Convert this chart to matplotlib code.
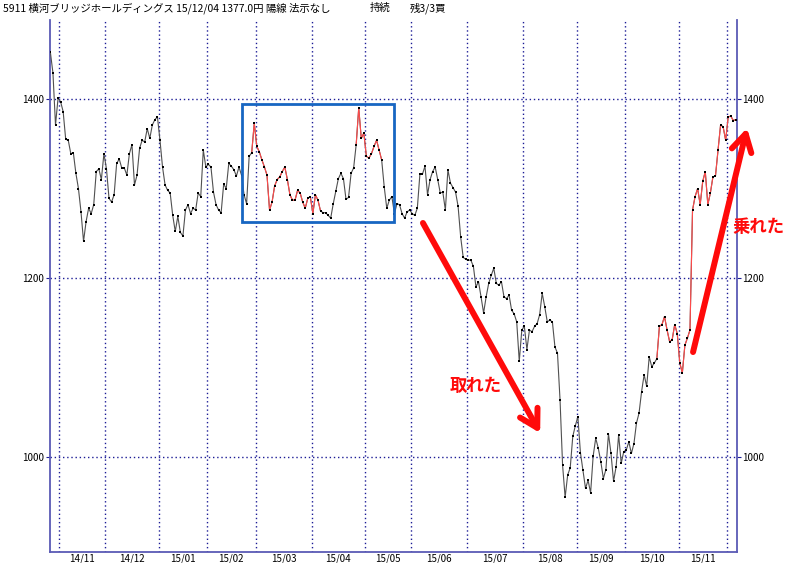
import numpy as np
import matplotlib
matplotlib.use('Agg')
import matplotlib.pyplot as plt
import matplotlib.patches as patches

plt.rcParams['font.family'] = ['Noto Sans CJK JP', 'DejaVu Sans']

# trading days per month, 14/10 (partial) .. 15/12 (partial)
month_days = [4, 18, 21, 19, 19, 22, 21, 18, 22, 22, 21, 19, 21, 19, 4]
month_labels = ['', '14/11', '14/12', '15/01', '15/02', '15/03', '15/04', '15/05',
                '15/06', '15/07', '15/08', '15/09', '15/10', '15/11', '']

# daily close
close = [
    1452, 1429, 1371, 1401, 1397, 1386, 1355, 1354, 1339, 1340,
    1317, 1300, 1274, 1241, 1263, 1278, 1272, 1282, 1319, 1322,
    1310, 1339, 1322, 1289, 1285, 1293, 1328, 1333, 1323, 1323,
    1315, 1339, 1349, 1304, 1315, 1345, 1354, 1352, 1367, 1356,
    1371, 1377, 1380, 1354, 1324, 1304, 1298, 1295, 1270, 1252,
    1269, 1251, 1247, 1276, 1282, 1272, 1278, 1276, 1295, 1291,
    1343, 1324, 1327, 1324, 1296, 1282, 1276, 1273, 1305, 1300,
    1328, 1325, 1321, 1314, 1324, 1315, 1293, 1283, 1336, 1340,
    1373, 1347, 1341, 1332, 1324, 1315, 1276, 1285, 1303, 1310,
    1313, 1319, 1324, 1310, 1293, 1287, 1287, 1298, 1295, 1285,
    1278, 1289, 1291, 1272, 1293, 1287, 1275, 1273, 1273, 1270,
    1267, 1283, 1297, 1311, 1317, 1311, 1288, 1290, 1317, 1323,
    1349, 1390, 1356, 1362, 1336, 1334, 1339, 1347, 1354, 1343,
    1332, 1302, 1278, 1287, 1291, 1272, 1283, 1282, 1272, 1267,
    1274, 1276, 1272, 1270, 1278, 1316, 1316, 1325, 1293, 1310,
    1319, 1324, 1310, 1295, 1296, 1276, 1321, 1306, 1301, 1296,
    1280, 1246, 1223, 1221, 1220, 1220, 1213, 1190, 1196, 1179,
    1161, 1179, 1194, 1203, 1211, 1194, 1192, 1196, 1179, 1177,
    1181, 1164, 1160, 1151, 1107, 1142, 1146, 1120, 1142, 1140,
    1146, 1149, 1159, 1183, 1168, 1151, 1153, 1151, 1123, 1116,
    1064, 991, 955, 980, 988, 1023, 1035, 1045, 1005, 985,
    965, 974, 960, 1001, 1021, 1010, 995, 976, 986, 1026,
    1004, 973, 989, 1025, 993, 1006, 1008, 1017, 1004, 1015,
    1038, 1049, 1073, 1092, 1079, 1112, 1101, 1105, 1110, 1146,
    1148, 1157, 1142, 1129, 1131, 1148, 1138, 1105, 1094, 1125,
    1133, 1142, 1276, 1291, 1300, 1282, 1308, 1319, 1282, 1295,
    1313, 1314, 1343, 1371, 1369, 1354, 1380, 1381, 1376, 1377,
]

# stretches drawn in red (index ranges, inclusive)
red_spans = [(79, 106), (120, 130), (238, 269)]
price_levels = [1000, 1200, 1400]

grid_color = '#1c1c96'
frame_color = '#5b5bb5'

x = np.arange(len(close))
close = np.array(close)

fig = plt.figure(figsize=(7.95, 5.63), dpi=100)
ax = fig.add_axes([50 / 795, 11 / 563, 687 / 795, 532 / 563])

ax.plot(x, close, color='#505050', lw=0.8, zorder=3)
for a, b in red_spans:
    ax.plot(x[a:b + 1], close[a:b + 1], color='#ff4a4a', lw=0.8, zorder=4)
ax.plot(x, close, linestyle='none', marker='s', ms=1.5, mew=0, color='black', zorder=5)

ends = np.cumsum(month_days)
for b in ends[:-1] - 0.5:
    ax.axvline(b, color=grid_color, lw=1, ls=(0, (1, 2)), zorder=1)
for level in price_levels:
    ax.axhline(level, color=grid_color, lw=1, ls=(0, (1, 2)), zorder=1)

centers = ends - np.array(month_days) / 2 - 0.5
ax.set_xticks(centers[1:-1])
ax.set_xticklabels(month_labels[1:-1])
ax.set_yticks(price_levels)
ax.set_xlim(-0.16, 269.45)
ax.set_ylim(893.9, 1488.3)

ax.spines['top'].set_visible(False)
for side in ['left', 'right', 'bottom']:
    ax.spines[side].set_color(frame_color)
    ax.spines[side].set_linewidth(1.3)

ax.tick_params(axis='y', left=True, right=True, labelleft=True, labelright=True,
               length=3, color=grid_color, labelsize=7, pad=1)
ax.tick_params(axis='x', length=0, labelsize=7, pad=1)

# box around the sideways period
ax.add_patch(patches.Rectangle((75.2, 1262.2), 59.5, 131.9, fill=False,
                               ec='#1766c2', lw=2, zorder=6))

# red arrows and notes
arrow = dict(arrowstyle='->,head_length=1.25,head_width=0.72', lw=4.3,
             color='#ff0a0a', shrinkA=0, shrinkB=0)
ax.annotate('', xy=(192.2, 1026.8), xytext=(146.2, 1261.5),
            arrowprops=arrow, annotation_clip=False, zorder=7)
ax.annotate('', xy=(273.4, 1367.6), xytext=(252.2, 1117.3),
            arrowprops=arrow, annotation_clip=False, zorder=7)
ax.text(167, 1079, '取れた', color='#ff0a0a', fontsize=12.5, fontweight='bold',
        ha='center', va='center', zorder=7)
ax.text(277.7, 1257, '乗れた', color='#ff0a0a', fontsize=12.5, fontweight='bold',
        ha='center', va='center', clip_on=False, zorder=7)

# header line
fig.text(3 / 795, 1 - 8 / 563, '5911 横河ブリッジホールディングス 15/12/04 1377.0円 陽線 法示なし',
         fontsize=7.5, va='center', ha='left')
fig.text(370 / 795, 1 - 8 / 563, '持続', fontsize=7.5, va='center', ha='left')
fig.text(410 / 795, 1 - 8 / 563, '残3/3買', fontsize=7.5, va='center', ha='left')

fig.savefig('out.png', dpi=100)
